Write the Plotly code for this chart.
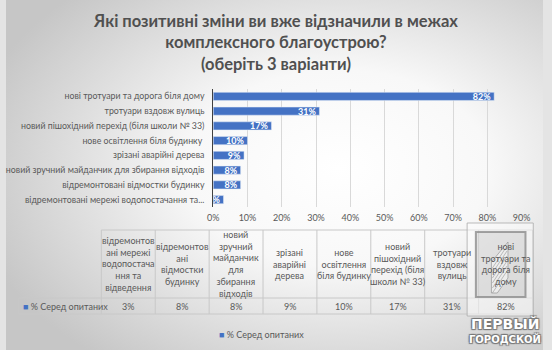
import base64
import plotly.graph_objects as go

# Survey answers, ordered from the smallest share to the largest
categories = [
    "відремонтовані мережі водопостачання та відведення",
    "відремонтовані відмостки будинку",
    "новий зручний майданчик для збирання відходів",
    "зрізані аварійні дерева",
    "нове освітлення біля будинку",
    "новий пішохідний перехід (біля школи № 33)",
    "тротуари вздовж вулиць",
    "нові тротуари та дорога біля дому",
]
axis_labels = [
    "відремонтовані мережі водопостачання та...",
    "відремонтовані відмостки будинку",
    "новий зручний майданчик для збирання відходів",
    "зрізані аварійні дерева",
    "нове освітлення біля будинку ",
    "новий пішохідний перехід (біля школи № 33)",
    "тротуари вздовж вулиць",
    "нові тротуари та дорога біля дому",
]
table_headers = [
    "відремонтов<br>ані мережі<br>водопостача<br>ння та<br>відведення",
    "відремонтов<br>ані<br>відмостки<br>будинку",
    "новий<br>зручний<br>майданчик<br>для<br>збирання<br>відходів",
    "зрізані<br>аварійні<br>дерева",
    "нове<br>освітлення<br>біля будинку",
    "новий<br>пішохідний<br>перехід (біля<br>школи № 33)",
    "тротуари<br>вздовж<br>вулиць",
    "нові<br>тротуари та<br>дорога біля<br>дому",
]
shares = [3, 8, 8, 9, 10, 17, 31, 82]
series_name = "% Серед опитаних"
x_ticks = [0, 10, 20, 30, 40, 50, 60, 70, 80, 90]

W, H = 552, 350
BLUE = "#4472C4"
TEXT = "#595959"
FONT = "Lato"


def fx(px):
    return px / W


def fy(py):
    return 1 - py / H


# soft radial backdrop behind the whole chart
svg = (
    '<svg xmlns="http://www.w3.org/2000/svg" width="552" height="350">'
    '<defs><radialGradient id="g" cx="62%" cy="48%" r="70%">'
    '<stop offset="0" stop-color="#ffffff"/>'
    '<stop offset="0.4" stop-color="#f8f8f8"/>'
    '<stop offset="1" stop-color="#c6c6c6"/>'
    '</radialGradient></defs>'
    '<rect width="552" height="350" fill="url(#g)"/></svg>'
)
bg_src = "data:image/svg+xml;base64," + base64.b64encode(svg.encode()).decode()

fig = go.Figure()
fig.add_trace(go.Bar(
    y=categories,
    x=shares,
    orientation="h",
    name=series_name,
    marker=dict(color=BLUE),
    text=[f"{v}%" for v in shares],
    texttemplate="%{text}",
    textposition="inside",
    insidetextanchor="end",
    constraintext="none",
    cliponaxis=True,
    textfont=dict(family=FONT, size=9, color="white", weight="bold"),
    showlegend=False,
))

# data table under the chart
tbl_left, tbl_x0, col_w = 13, 98, 55.4
top, mid, bottom = 230, 298, 314
tbl_right = tbl_x0 + col_w * len(categories)
line = dict(color="#c8c8c8", width=1)
shapes = [
    dict(type="line", xref="paper", yref="paper", x0=fx(tbl_x0), x1=fx(tbl_right),
         y0=fy(top), y1=fy(top), line=line),
    dict(type="line", xref="paper", yref="paper", x0=fx(tbl_left), x1=fx(tbl_right),
         y0=fy(mid), y1=fy(mid), line=line),
    dict(type="line", xref="paper", yref="paper", x0=fx(tbl_left), x1=fx(tbl_right),
         y0=fy(bottom), y1=fy(bottom), line=line),
    dict(type="line", xref="paper", yref="paper", x0=fx(tbl_left), x1=fx(tbl_left),
         y0=fy(mid), y1=fy(bottom), line=line),
]
for i in range(len(categories) + 1):
    xp = tbl_x0 + col_w * i
    shapes.append(dict(type="line", xref="paper", yref="paper", x0=fx(xp), x1=fx(xp),
                       y0=fy(top), y1=fy(bottom), line=line))

annotations = []
for i, (hdr, v) in enumerate(zip(table_headers, shares)):
    cx = tbl_x0 + col_w * (i + 0.5)
    annotations.append(dict(xref="paper", yref="paper", x=fx(cx), y=fy((top + mid) / 2),
                            text=hdr, showarrow=False, xanchor="center", yanchor="middle",
                            align="center", font=dict(family=FONT, size=9, color=TEXT)))
    annotations.append(dict(xref="paper", yref="paper", x=fx(cx), y=fy((mid + bottom) / 2),
                            text=f"{v}%", showarrow=False, xanchor="center", yanchor="middle",
                            font=dict(family=FONT, size=9, color=TEXT)))
annotations.append(dict(xref="paper", yref="paper", x=fx(15), y=fy((mid + bottom) / 2),
                        text=f"<span style='color:{BLUE}'>■</span> {series_name}",
                        showarrow=False, xanchor="left", yanchor="middle",
                        font=dict(family=FONT, size=9, color=TEXT)))

# legend line under the table
annotations.append(dict(xref="paper", yref="paper", x=fx(263), y=fy(334),
                        text=f"<span style='color:{BLUE}'>■</span> {series_name}",
                        showarrow=False, xanchor="center", yanchor="middle",
                        font=dict(family=FONT, size=9, color=TEXT)))

# site watermark in the lower right corner
shapes += [
    dict(type="rect", xref="paper", yref="paper", x0=fx(474), x1=fx(542), y0=fy(316), y1=fy(223),
         fillcolor="rgba(255,255,255,0.45)", line=dict(color="rgba(170,170,170,0.8)", width=1)),
    dict(type="rect", xref="paper", yref="paper", x0=fx(483), x1=fx(534), y0=fy(297), y1=fy(232),
         fillcolor="rgba(140,140,140,0.2)", line=dict(color="rgba(140,140,140,0.8)", width=2)),
    dict(type="path", xref="paper", yref="paper",
         path=f"M {fx(499)},{fy(262)} L {fx(516)},{fy(242)} L {fx(516)},{fy(278)} "
              f"L {fx(505)},{fy(293)} L {fx(499)},{fy(293)} Z",
         fillcolor="rgba(255,255,255,0.45)", line=dict(color="rgba(150,150,150,0.7)", width=1)),
]
for k in range(6):
    y0 = 268 + k * 5
    shapes.append(dict(type="line", xref="paper", yref="paper",
                       x0=fx(500), y0=fy(y0), x1=fx(515), y1=fy(y0 - 22),
                       line=dict(color="rgba(150,150,150,0.6)", width=1)))
outline = "1px 1px 1px #777, -1px -1px 1px #777, 1px -1px 1px #777, -1px 1px 1px #777"
annotations += [
    dict(xref="paper", yref="paper", x=fx(513), y=fy(324), text="<b>ПЕРВЫЙ</b>",
         showarrow=False, xanchor="center", yanchor="middle",
         font=dict(family="DejaVu Sans", size=14, color="white", shadow=outline)),
    dict(xref="paper", yref="paper", x=fx(513), y=fy(339), text="<b>ГОРОДСКОЙ</b>",
         showarrow=False, xanchor="center", yanchor="middle",
         font=dict(family="DejaVu Sans", size=10, color="white", shadow=outline)),
]

fig.update_layout(
    width=W, height=H,
    margin=dict(l=0, r=0, t=0, b=0),
    paper_bgcolor="#e4e4e4",
    plot_bgcolor="rgba(0,0,0,0)",
    images=[dict(source=bg_src, xref="paper", yref="paper", x=0, y=1, sizex=1, sizey=1,
                 sizing="stretch", layer="below", xanchor="left", yanchor="top")],
    title=dict(
        text="Які позитивні зміни ви вже відзначили в межах<br>комплексного благоустрою?<br>(оберіть 3 варіанти)",
        x=0.5, xanchor="center", y=fy(27), yanchor="top",
        font=dict(family=FONT, size=16.5, color="#505050", weight="bold"),
    ),
    xaxis=dict(
        domain=[fx(213), fx(530)], range=[0, 90], tickvals=x_ticks,
        ticktext=[f"{t}%" for t in x_ticks],
        showgrid=True, gridcolor="#d9d9d9", gridwidth=1, zeroline=False, showline=False,
        tickfont=dict(family=FONT, size=9, color=TEXT), ticks="", ticklabelstandoff=4,
    ),
    yaxis=dict(
        domain=[fy(207), fy(89)], categoryorder="array", categoryarray=categories,
        tickvals=categories, ticktext=axis_labels,
        showline=True, linecolor="#404040", linewidth=1, showgrid=False, ticks="",
        tickfont=dict(family=FONT, size=8.8, color=TEXT), ticklabelstandoff=6,
    ),
    bargap=0.45,
    showlegend=False,
    shapes=shapes,
    annotations=annotations,
)

fig.write_html("out.html")
